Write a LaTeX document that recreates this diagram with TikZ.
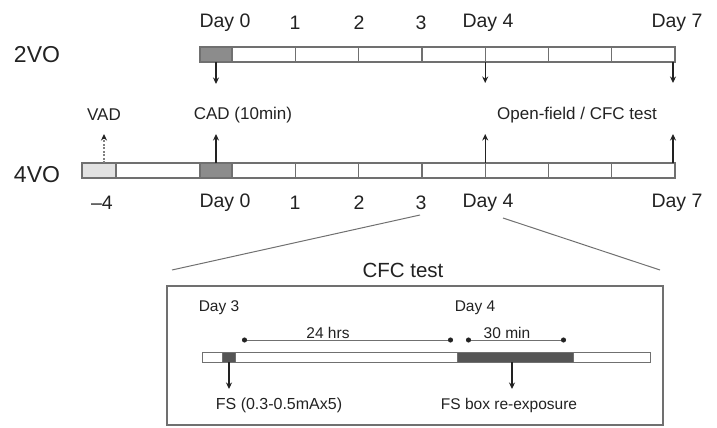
\documentclass[tikz,border=0pt]{standalone}
\usepackage{fontspec}
\setmainfont{Liberation Sans}
\usetikzlibrary{arrows.meta}
\definecolor{txt}{HTML}{222222}
\definecolor{barline}{HTML}{707070}
\definecolor{segdark}{HTML}{8C8C8C}
\definecolor{seglight}{HTML}{E2E2E2}
\definecolor{boxdark}{HTML}{555555}
\begin{document}
\begin{tikzpicture}[x=1pt,y=-1pt,
  bar/.style={draw=barline, line width=1.2pt, fill=white},
  darkseg/.style={draw=barline, line width=1.2pt, fill=segdark},
  lightseg/.style={draw=barline, line width=1.2pt, fill=seglight},
  tick/.style={draw=barline, line width=1.2pt},
  big/.style={font=\fontsize{23}{25}\selectfont, text=txt, inner sep=0pt},
  daylbl/.style={font=\fontsize{19.5}{21}\selectfont, text=txt, inner sep=0pt},
  midlbl/.style={font=\fontsize{17}{19}\selectfont, text=txt, inner sep=0pt},
  inlbl/.style={font=\fontsize{15.5}{17}\selectfont, text=txt, inner sep=0pt},
  arr/.style={draw=txt, line width=1.1pt, -{Stealth[length=6.5pt,width=6pt,color=txt]}},
  dimarr/.style={draw=barline, line width=0.8pt, {Circle[length=5pt,color=txt]}-{Circle[length=5pt,color=txt]}},
  zoomline/.style={draw=barline, line width=1pt}]
\useasboundingbox (0,0) rectangle (717,428);

% ---------- 2VO ----------
\node[big] (l2vo) at (37,55) {2VO};
\draw[bar] (200,47) rectangle (675,62);
\draw[darkseg] (200,47) rectangle (232,62);
\foreach \x in {295.3,358.6,421.9,485.2,548.5,611.8}
  \draw[tick] (\x,47) -- (\x,62);
\node[daylbl] (t0) at (225,23) {Day 0};
\node[daylbl] (t1) at (295,23) {1};
\node[daylbl] (t2) at (359,23) {2};
\node[daylbl] (t3) at (421,23) {3};
\node[daylbl] (t4) at (488,23) {Day 4};
\node[daylbl] (t7) at (677,23) {Day 7};

\coordinate (a0s) at (216,62);  \coordinate (a0e) at (216,84);
\coordinate (a4s) at (485.2,62);\coordinate (a4e) at (485.2,83);
\coordinate (a7s) at (673,62);  \coordinate (a7e) at (673,83);
\draw[arr] (a0s) -- (a0e);
\draw[arr] (a4s) -- (a4e);
\draw[arr] (a7s) -- (a7e);

% ---------- middle labels ----------
\node[midlbl] (vad) at (104,115) {VAD};
\node[midlbl] (cad) at (243,115) {CAD (10min)};
\node[midlbl] (of) at (577,115) {Open-field / CFC test};

% ---------- 4VO ----------
\node[big] (l4vo) at (37,175) {4VO};
\draw[bar] (82,163) rectangle (675,178);
\draw[lightseg] (82,163) rectangle (116,178);
\draw[darkseg] (200,163) rectangle (232,178);
\foreach \x in {295.3,358.6,421.9,485.2,548.5,611.8}
  \draw[tick] (\x,163) -- (\x,178);

\coordinate (bvs) at (104,163);  \coordinate (bve) at (104,134);
\coordinate (b0s) at (216,163);  \coordinate (b0e) at (216,134);
\coordinate (b4s) at (485.2,163);\coordinate (b4e) at (485.2,134);
\coordinate (b7s) at (673,163);  \coordinate (b7e) at (673,134);
\draw[arr, draw=gray, dash pattern=on 2pt off 1.5pt] (bvs) -- (bve);
\draw[arr] (b0s) -- (b0e);
\draw[arr] (b4s) -- (b4e);
\draw[arr] (b7s) -- (b7e);

\node[daylbl] (u4) at (102,203) {–4};
\node[daylbl] (u0) at (225,203) {Day 0};
\node[daylbl] (u1) at (295,203) {1};
\node[daylbl] (u2) at (359,203) {2};
\node[daylbl] (u3) at (421,203) {3};
\node[daylbl] (u44) at (488,203) {Day 4};
\node[daylbl] (u7) at (677,203) {Day 7};

% ---------- zoom lines ----------
\coordinate (zl1) at (420,215); \coordinate (zl2) at (172,270);
\coordinate (zr1) at (503,218); \coordinate (zr2) at (660,270);
\draw[zoomline] (zl1) -- (zl2);
\draw[zoomline] (zr1) -- (zr2);

% ---------- CFC test box ----------
\node[font=\fontsize{20.5}{22}\selectfont, text=txt, inner sep=0pt] (cfct) at (403,270) {CFC test};
\draw[draw=barline, line width=1.1pt] (167,286) rectangle (663,425);
\node[inlbl] (d3) at (219,308) {Day 3};
\node[inlbl] (d4) at (475,308) {Day 4};

\draw[draw=barline, line width=1pt, fill=white] (202,352) rectangle (650,362);
\draw[draw=barline, line width=1pt, fill=boxdark] (222,352) rectangle (235,362);
\draw[draw=barline, line width=1pt, fill=boxdark] (457,352) rectangle (573,362);

\coordinate (h1) at (242,340); \coordinate (h2) at (453,340);
\coordinate (m1) at (466,340); \coordinate (m2) at (566,340);
\draw[dimarr] (h1) -- (h2);
\draw[dimarr] (m1) -- (m2);
\node[inlbl, fill=white, inner sep=1pt] (hrs) at (328,333) {24 hrs};
\node[inlbl, fill=white, inner sep=1pt] (mins) at (507,333) {30 min};

\coordinate (f1s) at (229,362); \coordinate (f1e) at (229,389);
\coordinate (f2s) at (512,362); \coordinate (f2e) at (512,389);
\draw[arr] (f1s) -- (f1e);
\draw[arr] (f2s) -- (f2e);
\node[inlbl, font=\fontsize{16}{18}\selectfont] (fs1) at (279,405) {FS (0.3-0.5mAx5)};
\node[inlbl] (fs2) at (509,405) {FS box re-exposure};
\end{tikzpicture}
\end{document}
